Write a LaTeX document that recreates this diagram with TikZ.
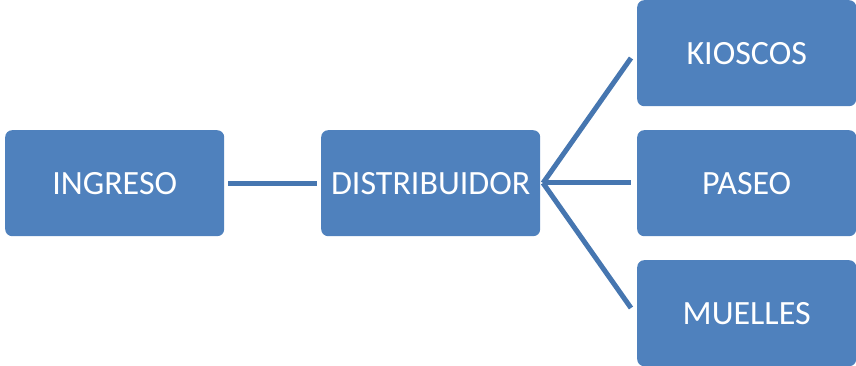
\documentclass[tikz,border=0pt]{standalone}
\usepackage{fontspec}
\setmainfont{Carlito}
\definecolor{boxblue}{HTML}{4F81BD}
\definecolor{lineblue}{HTML}{4676B0}
\begin{document}
\begin{tikzpicture}[x=1pt,y=-1pt,
  boxnode/.style={fill=boxblue,rounded corners=7pt,minimum width=219pt,minimum height=106pt,
    inner sep=0pt,text=white,font=\fontsize{34}{40}\selectfont,anchor=north west},
  link/.style={draw=lineblue,line width=5pt}]
\useasboundingbox (0,0) rectangle (856,366);
\node[boxnode] (ing) at (5,130) {INGRESO};
\node[boxnode] (dis) at (321,130) {DISTRIBUIDOR};
\node[boxnode] (kio) at (637,0) {KIOSCOS};
\node[boxnode] (pas) at (637,130) {PASEO};
\node[boxnode] (mue) at (637,260) {MUELLES};
\coordinate (kin) at (631,58);
\coordinate (pin) at (631,183);
\coordinate (min) at (631,308);
\coordinate (dout) at (543,183);
\draw[link] ([xshift=4pt]ing.east) -- ([xshift=-4pt]dis.west);
\draw[link] (dout) -- (kin);
\draw[link] (dout) -- (pin);
\draw[link] (dout) -- (min);
\end{tikzpicture}
\end{document}
